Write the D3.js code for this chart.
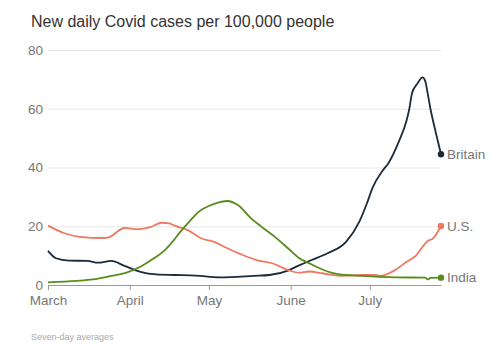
<!DOCTYPE html>
<html>
<head>
<meta charset="utf-8">
<script src="https://cdn.jsdelivr.net/npm/d3@7"></script>
<style>
  html, body { margin: 0; padding: 0; background: #fff; }
  svg { display: block; }
</style>
</head>
<body>
<svg id="chart" width="503" height="360"></svg>
<script>
// ---- Data (2021) ----
const yTicks = [0, 20, 40, 60, 80];
const monthTicks = ["2021-03-01", "2021-04-01", "2021-05-01", "2021-06-01", "2021-07-01"];
const monthLabels = ["March", "April", "May", "June", "July"];

const britainDates = ["2021-03-01","2021-03-04","2021-03-09","2021-03-16","2021-03-20","2021-03-25","2021-03-30","2021-04-05","2021-04-11","2021-04-18","2021-04-26","2021-05-05","2021-05-18","2021-05-24","2021-05-31","2021-06-04","2021-06-09","2021-06-15","2021-06-22","2021-06-27","2021-06-30","2021-07-02","2021-07-06","2021-07-08","2021-07-12","2021-07-15","2021-07-16","2021-07-17","2021-07-19","2021-07-21","2021-07-22","2021-07-23","2021-07-24","2021-07-26","2021-07-28"];
const britainValues = [11.6,9.1,8.3,8.2,7.6,8.2,6.5,4.5,3.6,3.4,3.2,2.6,3.1,3.4,4.9,6.6,8.5,10.8,14.7,21.5,28.0,33.0,39.1,41.4,48.8,56.2,60.0,65.3,68.5,70.7,69.5,65.0,60.0,52.0,44.5];

const usDates = ["2021-03-01","2021-03-07","2021-03-13","2021-03-22","2021-03-24","2021-03-30","2021-04-04","2021-04-09","2021-04-13","2021-04-16","2021-04-18","2021-04-23","2021-04-28","2021-05-03","2021-05-08","2021-05-13","2021-05-19","2021-05-25","2021-05-31","2021-06-04","2021-06-08","2021-06-13","2021-06-21","2021-06-28","2021-07-03","2021-07-05","2021-07-11","2021-07-15","2021-07-18","2021-07-23","2021-07-25","2021-07-28"];
const usValues = [20.2,17.7,16.4,16.0,16.2,19.4,19.0,19.8,21.2,21.0,20.2,18.7,15.9,14.7,12.5,10.5,8.5,7.4,5.1,4.2,4.6,4.0,3.1,3.4,3.4,3.1,5.3,7.9,9.6,15.0,15.9,20.1];

const indiaDates = ["2021-03-01","2021-03-12","2021-03-18","2021-03-25","2021-03-31","2021-04-05","2021-04-10","2021-04-14","2021-04-17","2021-04-20","2021-04-24","2021-04-27","2021-05-03","2021-05-08","2021-05-12","2021-05-17","2021-05-21","2021-05-26","2021-05-31","2021-06-04","2021-06-09","2021-06-12","2021-06-15","2021-06-19","2021-06-28","2021-07-11","2021-07-22","2021-07-23","2021-07-24","2021-07-28"];
const indiaValues = [0.9,1.4,1.9,3.1,4.3,6.2,9.0,11.6,14.5,17.9,22.0,24.8,27.6,28.6,27.2,22.7,19.8,16.4,12.5,9.3,7.0,5.7,4.6,3.7,3.1,2.6,2.5,1.9,2.4,2.5];

const seriesNames = ["Britain", "U.S.", "India"];
const seriesColors = ["#1c2b3a", "#ec7a61", "#5a8c1c"];

const titleText = "New daily Covid cases per 100,000 people";
const noteText = "Seven-day averages";

// ---- Build ----
const parse = d3.timeParse("%Y-%m-%d");
const series = [
  { name: seriesNames[0], color: seriesColors[0], pts: britainDates.map((d, i) => ({ date: parse(d), value: britainValues[i] })) },
  { name: seriesNames[1], color: seriesColors[1], pts: usDates.map((d, i) => ({ date: parse(d), value: usValues[i] })) },
  { name: seriesNames[2], color: seriesColors[2], pts: indiaDates.map((d, i) => ({ date: parse(d), value: indiaValues[i] })) }
];

const svg = d3.select("#chart");
const font = "'Liberation Sans', Arial, sans-serif";

const x = d3.scaleTime()
  .domain([parse("2021-03-01"), parse("2021-07-28")])
  .range([48, 441]);
const y = d3.scaleLinear().domain([0, 80]).range([285, 50]);

// title
svg.append("text")
  .attr("x", 31).attr("y", 27)
  .attr("font-family", font).attr("font-size", 16)
  .attr("fill", "#333")
  .text(titleText);

// grid + y labels
const yAxis = d3.axisLeft(y).tickValues(yTicks).tickSize(-(441 - 48)).tickPadding(5);
const gy = svg.append("g").attr("transform", "translate(48,0)").call(yAxis);
gy.select(".domain").remove();
gy.selectAll(".tick line").attr("stroke", "#e6e6e6").attr("stroke-width", 1)
  .filter(d => d === 0).remove();
gy.selectAll(".tick text")
  .attr("font-family", font).attr("font-size", 13.5).attr("fill", "#777").attr("x", -5);

// x axis
const xAxis = d3.axisBottom(x)
  .tickValues(monthTicks.map(parse))
  .tickFormat((d, i) => monthLabels[i])
  .tickSize(5).tickSizeOuter(0).tickPadding(5);
const gx = svg.append("g").attr("transform", "translate(0,285)").call(xAxis);
gx.select(".domain").attr("stroke", "#999").attr("stroke-width", 1);
gx.selectAll(".tick line").attr("stroke", "#999");
gx.selectAll(".tick text")
  .attr("font-family", font).attr("font-size", 13.5).attr("fill", "#777");

// lines
const line = d3.line().x(d => x(d.date)).y(d => y(d.value)).curve(d3.curveMonotoneX);
series.forEach(s => {
  svg.append("path")
    .datum(s.pts)
    .attr("fill", "none")
    .attr("stroke", s.color)
    .attr("stroke-width", 1.8)
    .attr("stroke-linejoin", "round")
    .attr("d", line);
});

// end dots + labels
series.forEach(s => {
  const last = s.pts[s.pts.length - 1];
  svg.append("circle")
    .attr("cx", x(last.date)).attr("cy", y(last.value)).attr("r", 3.2)
    .attr("fill", s.color);
  svg.append("text")
    .attr("x", x(last.date) + 6).attr("y", y(last.value))
    .attr("dy", "0.35em")
    .attr("font-family", font).attr("font-size", 13.5).attr("fill", "#777")
    .text(s.name);
});

// note
svg.append("text")
  .attr("x", 31).attr("y", 340)
  .attr("font-family", font).attr("font-size", 9).attr("fill", "#aaa")
  .text(noteText);
</script>
</body>
</html>
